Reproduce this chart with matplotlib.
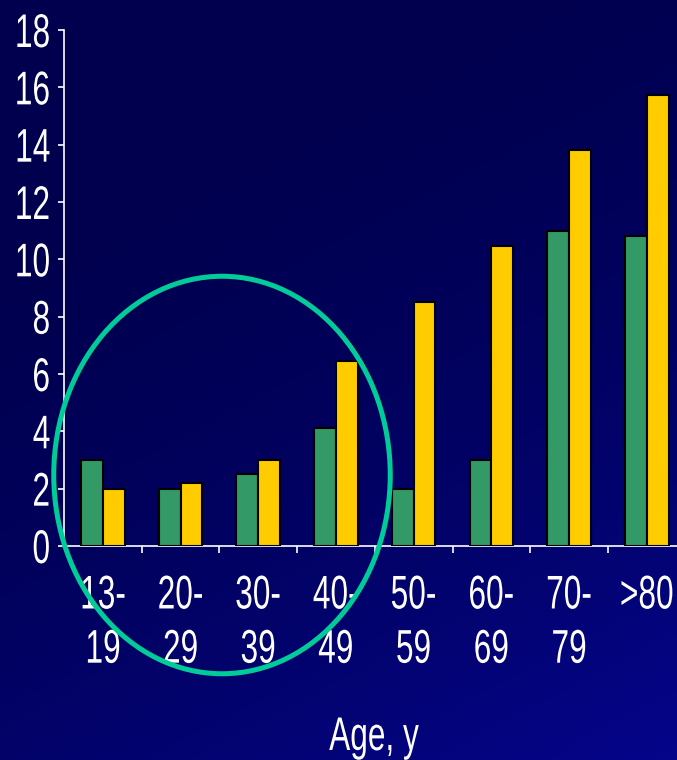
import matplotlib
matplotlib.use("Agg")
import matplotlib.pyplot as plt
from matplotlib.patches import Ellipse
from matplotlib.patheffects import AbstractPathEffect
from matplotlib.transforms import Affine2D
import numpy as np

plt.rcParams['font.family'] = ['Liberation Sans', 'DejaVu Sans']

# incidence by age group, two series
ages = ['13-\n19', '20-\n29', '30-\n39', '40-\n49', '50-\n59', '60-\n69', '70-\n79', '>80']
green_vals = [3.0, 2.0, 2.5, 4.1, 2.0, 3.0, 11.0, 10.8]
yellow_vals = [2.0, 2.2, 3.0, 6.45, 8.5, 10.45, 13.8, 15.75]
yticks = [0, 2, 4, 6, 8, 10, 12, 14, 16, 18]


class Narrow(AbstractPathEffect):
    """Condense glyphs horizontally, pivoting on each line's left/centre/right."""

    def __init__(self, sx=0.67, about='center'):
        super().__init__()
        self.sx = sx
        self.about = about

    def draw_path(self, renderer, gc, tpath, affine, rgbFace=None):
        ext = tpath.transformed(affine).get_extents()
        px = {'left': ext.x0, 'center': (ext.x0 + ext.x1) / 2, 'right': ext.x1}[self.about]
        squeeze = Affine2D().translate(-px, 0).scale(self.sx, 1).translate(px, 0)
        renderer.draw_path(gc, tpath, affine + squeeze, rgbFace)


W, H = 677, 760
fig = plt.figure(figsize=(W / 100, H / 100), dpi=100)

# dark navy backdrop, a little brighter toward the bottom right
bg = fig.add_axes([0, 0, 1, 1], zorder=-10)
yy, xx = np.mgrid[0:1:200j, 0:1:200j]
t = np.clip(0.75 * yy + 0.35 * xx - 0.2, 0, 1) ** 1.6
top = np.array([0, 0, 78]) / 255
bot = np.array([6, 6, 150]) / 255
img = top[None, None, :] * (1 - t[..., None]) + bot[None, None, :] * t[..., None]
bg.imshow(img, aspect='auto', extent=[0, 1, 0, 1], origin='upper')
bg.axis('off')

ax = fig.add_axes([64 / W, 214 / H, 621.6 / W, 516 / H])
ax.set_facecolor('none')

x = np.arange(len(ages))
w = 0.28
ax.bar(x - w / 2, green_vals, w, color='#339966', edgecolor='black', linewidth=1.5, zorder=3)
ax.bar(x + w / 2, yellow_vals, w, color='#FFCC00', edgecolor='black', linewidth=1.5, zorder=3)

ax.set_xlim(-0.5, len(ages) - 0.5)
ax.set_ylim(0, 18)
ax.set_yticks(yticks)
ax.set_yticklabels([str(v) for v in yticks])

ax.set_xticks(x[:-1] + 0.5)
ax.set_xticklabels([])
ax.set_xticks(x, minor=True)
ax.set_xticklabels(ages, minor=True)

for s in ['top', 'right']:
    ax.spines[s].set_visible(False)
for s in ['left', 'bottom']:
    ax.spines[s].set_color('white')
    ax.spines[s].set_linewidth(1.2)

ax.tick_params(axis='y', colors='white', labelsize=34, length=4.5, width=1.2, pad=5)
ax.tick_params(axis='x', which='major', colors='white', length=5, width=1.2)
ax.tick_params(axis='x', which='minor', colors='white', labelsize=34, length=0, pad=20.5)

for lbl in ax.get_yticklabels():
    lbl.set_path_effects([Narrow(0.67, 'right')])
for lbl in ax.get_xticklabels(minor=True):
    lbl.set_linespacing(1.3)
    lbl.set_path_effects([Narrow(0.67, 'center')])

xlab = fig.text(374 / W, 1 - 750 / H, 'Age, y', color='white', fontsize=34,
                ha='center', va='baseline')
xlab.set_path_effects([Narrow(0.67, 'center')])

# highlight around the younger age groups
fig.add_artist(Ellipse((222 / W, 1 - 475 / H), 336.5 / W, 397.5 / H,
                       transform=fig.transFigure, fill=False,
                       edgecolor='#00CC99', linewidth=3.6, zorder=10))

fig.savefig('out.png', dpi=100)
